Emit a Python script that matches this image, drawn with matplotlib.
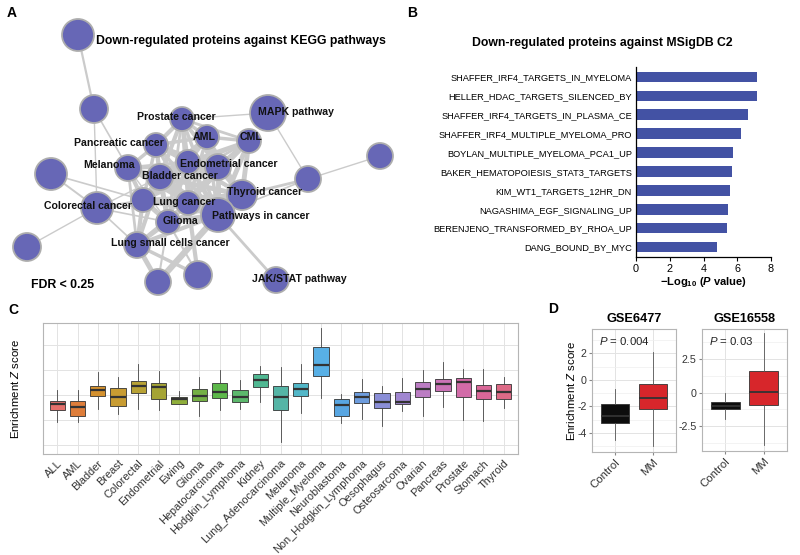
import numpy as np
import matplotlib
matplotlib.use("Agg")
import matplotlib.pyplot as plt
from matplotlib.patches import Circle
from matplotlib.collections import LineCollection

plt.rcParams.update({
    "font.family": ["Liberation Sans", "DejaVu Sans"],
    "mathtext.fontset": "custom",
    "mathtext.rm": "Liberation Sans",
    "mathtext.it": "Liberation Sans:italic",
    "mathtext.bf": "Liberation Sans:bold",
    "mathtext.bfit": "Liberation Sans:italic:bold",
    "axes.unicode_minus": False,
})

# ---------------------------------------------------------------------------
# data
# ---------------------------------------------------------------------------
# A: KEGG network (layout in panel pixels)
node_x = [78, 94, 182, 268, 207, 249, 156, 128, 51, 188, 218, 160, 308, 380,
          242, 97, 143, 188, 218, 168, 137, 27, 158, 198, 276]
node_y = [35, 109, 119, 113, 137, 141, 145, 168, 174, 162, 167, 177, 179, 156,
          195, 208, 200, 203, 215, 222, 245, 247, 282, 275, 280]
node_r = [16, 14, 12, 18, 12, 12, 12, 13, 16, 12, 13, 13, 13, 13,
          15, 16, 12, 12, 17, 12, 13, 14, 13, 14, 13]
edges = [
    (0, 1, 1.6), (1, 7, 1.2), (2, 3, 1.0), (3, 12, 1.0), (13, 12, 1.0),
    (12, 14, 2.0), (12, 18, 1.2), (8, 16, 1.2), (8, 15, 1.4), (21, 15, 1.0),
    (15, 16, 1.5), (15, 19, 1.2), (15, 20, 1.2), (15, 11, 1.0), (15, 17, 1.0),
    (18, 24, 2.0), (20, 22, 3.5), (20, 23, 2.5), (18, 22, 4.5), (17, 23, 3.0),
    (19, 22, 1.5), (19, 23, 1.5), (7, 19, 1.0), (1, 15, 1.0),
    (2, 4, 2.5), (2, 5, 2.0), (2, 6, 3.0), (2, 9, 3.0), (2, 10, 2.5),
    (2, 11, 3.0), (2, 17, 2.5), (2, 18, 2.5), (4, 5, 2.5), (4, 6, 2.5),
    (4, 9, 3.5), (4, 10, 3.0), (4, 11, 3.0), (4, 14, 2.5), (4, 17, 2.5),
    (4, 18, 2.5), (5, 9, 3.0), (5, 10, 3.5), (5, 14, 3.5), (5, 17, 3.0),
    (5, 18, 3.5), (5, 11, 2.5), (5, 19, 2.5), (6, 7, 2.5), (6, 9, 3.0),
    (6, 11, 3.0), (6, 17, 2.5), (6, 18, 2.5), (6, 19, 2.5), (7, 11, 3.5),
    (7, 16, 3.0), (7, 17, 2.5), (7, 18, 2.5), (7, 9, 2.5), (9, 10, 3.5),
    (9, 11, 3.5), (9, 14, 3.0), (9, 17, 3.5), (9, 18, 3.5), (9, 19, 3.0),
    (10, 11, 3.5), (10, 14, 3.5), (10, 17, 3.5), (10, 18, 3.5), (10, 19, 3.0),
    (11, 14, 3.5), (11, 16, 3.5), (11, 17, 4.0), (11, 18, 3.5), (11, 19, 3.5),
    (11, 20, 3.0), (14, 17, 3.5), (14, 18, 4.0), (14, 19, 3.0), (14, 16, 3.0),
    (16, 17, 3.5), (16, 19, 3.5), (16, 18, 3.0), (16, 20, 3.0), (17, 18, 4.0),
    (17, 19, 3.5), (17, 20, 3.0), (18, 19, 4.0), (18, 20, 3.0), (19, 20, 3.0),
    (6, 16, 2.5), (2, 14, 2.5), (5, 16, 2.0), (7, 20, 2.0), (6, 10, 2.5),
    (7, 10, 2.0), (4, 16, 2.0), (10, 16, 2.5), (6, 14, 2.0), (2, 19, 2.0),
]
node_labels = ["Prostate cancer", "AML", "CML", "MAPK pathway", "Pancreatic cancer",
               "Melanoma", "Endometrial cancer", "Bladder cancer", "Thyroid cancer",
               "Colorectal cancer", "Lung cancer", "Pathways in cancer", "Glioma",
               "Lung small cells cancer", "JAK/STAT pathway"]
label_pos = [(137, 117), (193, 137), (240, 137), (258, 112), (74, 143),
             (83, 165), (180, 164), (142, 176), (227, 192),
             (44, 206), (153, 202), (212, 216), (163, 221),
             (111, 243), (252, 279)]

# B: MSigDB C2
msig_sets = ["SHAFFER_IRF4_TARGETS_IN_MYELOMA", "HELLER_HDAC_TARGETS_SILENCED_BY",
             "SHAFFER_IRF4_TARGETS_IN_PLASMA_CE", "SHAFFER_IRF4_MULTIPLE_MYELOMA_PRO",
             "BOYLAN_MULTIPLE_MYELOMA_PCA1_UP", "BAKER_HEMATOPOIESIS_STAT3_TARGETS",
             "KIM_WT1_TARGETS_12HR_DN", "NAGASHIMA_EGF_SIGNALING_UP",
             "BERENJENO_TRANSFORMED_BY_RHOA_UP", "DANG_BOUND_BY_MYC"]
msig_logp = [7.19, 7.19, 6.66, 6.20, 5.77, 5.71, 5.57, 5.43, 5.38, 4.78]

# C: enrichment Z score per cancer type
cancer_types = ["ALL", "AML", "Bladder", "Breast", "Colorectal", "Endometrial", "Ewing",
                "Glioma", "Hepatocarcinoma", "Hodgkin_Lymphoma", "Kidney",
                "Lung_Adenocarcinoma", "Melanoma", "Multiple_Myeloma", "Neuroblastoma",
                "Non_Hodgkin_Lymphoma", "Oesophagus", "Osteosarcoma", "Ovarian",
                "Pancreas", "Prostate", "Stomach", "Thyroid"]
c_whishi = [0.20, 0.20, 0.93, 0.71, 1.24, 0.97, 0.16, 0.71, 1.00, 0.60, 1.17, 1.11,
            1.23, 2.67, 0.03, 0.63, 0.37, 0.67, 1.00, 1.31, 1.03, 1.04, 0.71]
c_q3 = [-0.24, -0.23, 0.37, 0.27, 0.56, 0.47, -0.09, 0.23, 0.47, 0.20, 0.84, 0.37,
        0.49, 1.91, -0.17, 0.13, 0.07, 0.11, 0.51, 0.64, 0.67, 0.39, 0.45]
c_med = [-0.37, -0.49, 0.20, -0.09, 0.36, 0.31, -0.17, -0.04, 0.11, -0.09, 0.60, -0.07,
         0.23, 1.20, -0.40, -0.09, -0.28, -0.28, 0.25, 0.43, 0.52, 0.17, 0.11]
c_q1 = [-0.60, -0.83, -0.04, -0.44, 0.07, -0.15, -0.37, -0.23, -0.11, -0.29, 0.31, -0.60,
        -0.03, 0.77, -0.83, -0.33, -0.53, -0.37, -0.07, 0.17, -0.07, -0.17, -0.15]
c_whislo = [-1.07, -1.07, -0.56, -0.76, -0.57, -0.60, -0.37, -0.83, -0.60, -0.56, -0.27,
            -1.87, -0.71, -0.13, -1.11, -0.97, -1.23, -0.63, -0.83, -0.49, -1.00, -1.03, -0.53]

# D: validation datasets
d_groups = ["Control", "MM"]
gse6477 = {"whishi": [-0.71, 2.10], "q3": [-1.82, -0.33], "med": [-2.71, -1.39],
           "q1": [-3.24, -2.23], "whislo": [-4.56, -4.99]}
gse16558 = {"whishi": [-0.05, 4.45], "q3": [-0.72, 1.58], "med": [-1.00, 0.02],
            "q1": [-1.22, -0.95], "whislo": [-1.93, -3.93]}
d_pvals = ["0.004", "0.03"]

# box fill colours for panel C (muted hue wheel)
c_palette = ["#e4706c", "#de7d3a", "#d4912e", "#c89c32", "#b8a235", "#a5a435",
             "#8fae3b", "#74b044", "#5db84a", "#5cb86c", "#50b892", "#55b5a6",
             "#52b7c8", "#58b0e6", "#58a6e2", "#6d9cdd", "#8a8ed7", "#a086d1",
             "#bb7cc3", "#ca73b6", "#d26ba8", "#da6798", "#dd6a86"]

W, H = 800, 555
fig = plt.figure(figsize=(W / 100, H / 100), dpi=100)


def px_axes(x0, y0, x1, y1):
    return fig.add_axes([x0 / W, 1 - y1 / H, (x1 - x0) / W, (y1 - y0) / H])


# panel letters
for letter, (lx, ly) in zip("ABCD", [(12, 13), (412, 13), (13, 310), (553, 309)]):
    fig.text(lx / W, 1 - ly / H, letter, fontsize=10, fontweight="bold", ha="center", va="center")

# ---------------------------------------------------------------------------
# A
# ---------------------------------------------------------------------------
ax = px_axes(0, 0, 400, 300)
ax.set_xlim(0, 400)
ax.set_ylim(300, 0)
ax.axis("off")
segs = [[(node_x[a], node_y[a]), (node_x[b], node_y[b])] for a, b, _ in edges]
ax.add_collection(LineCollection(segs, linewidths=[w for _, _, w in edges],
                                 colors="#cbcbcb", zorder=1))
for x, y, r in zip(node_x, node_y, node_r):
    ax.add_patch(Circle((x, y), r, facecolor="#6767b6", edgecolor="#adadad",
                        linewidth=1.3, zorder=2))
for name, (lx, ly) in zip(node_labels, label_pos):
    ax.text(lx, ly, name, fontsize=7.6, fontweight="bold", ha="left", va="center",
            color="#111111", zorder=3)
ax.text(96, 41, "Down-regulated proteins against KEGG pathways", fontsize=8.8,
        fontweight="bold", ha="left", va="center", zorder=3)
ax.text(31, 285, "FDR < 0.25", fontsize=8.8, fontweight="bold", ha="left", va="center")

# ---------------------------------------------------------------------------
# B
# ---------------------------------------------------------------------------
ax = px_axes(636, 67, 771, 257)
ypos = np.arange(len(msig_sets))
ax.barh(ypos, msig_logp, height=0.56, color="#4352a4")
ax.set_ylim(len(msig_sets) - 0.47, -0.53)
ax.set_xlim(0, 8)
ax.set_yticks(ypos)
ax.set_yticklabels(msig_sets, fontsize=6.7)
ax.tick_params(axis="y", length=0, pad=3)
ax.set_xticks([0, 2, 4, 6, 8])
ax.tick_params(axis="x", labelsize=7.8, length=3, width=0.8, pad=2)
for s in ["top", "right"]:
    ax.spines[s].set_visible(False)
for s in ["left", "bottom"]:
    ax.spines[s].set_linewidth(0.9)
ax.set_xlabel(r"−Log$_{\mathbf{10}}$ ($\mathbfit{P}$ value)", fontsize=8,
              fontweight="bold", labelpad=1)
fig.text(602 / W, 1 - 43 / H, "Down-regulated proteins against MSigDB C2",
         fontsize=8.8, fontweight="bold", ha="center", va="center")

# ---------------------------------------------------------------------------
# C
# ---------------------------------------------------------------------------
ax = px_axes(43, 323, 518, 454)
stats = [dict(med=m, q1=a, q3=b, whislo=lo, whishi=hi, fliers=[])
         for m, a, b, lo, hi in zip(c_med, c_q1, c_q3, c_whislo, c_whishi)]
xs = np.arange(len(cancer_types))
bp = ax.bxp(stats, positions=xs, widths=0.75, patch_artist=True, showcaps=False,
            boxprops=dict(edgecolor="#333333", linewidth=0.6),
            medianprops=dict(color="#333333", linewidth=1.6),
            whiskerprops=dict(color="#444444", linewidth=0.6), manage_ticks=False,
            zorder=3)
for patch, col in zip(bp["boxes"], c_palette):
    patch.set_facecolor(col)
ax.set_xlim(-0.7, len(cancer_types) - 0.3)
ax.set_ylim(-2.36, 2.89)
ax.set_xticks(xs)
ax.set_xticklabels(cancer_types, rotation=45, ha="right", va="top",
                   rotation_mode="anchor", fontsize=7.9, color="#333333")
ax.set_yticks([-2, -1, 0, 1, 2])
ax.set_yticklabels([])
ax.tick_params(axis="both", length=0, pad=3)
ax.grid(True, color="#e3e3e3", linewidth=0.7, zorder=0)
ax.set_axisbelow(True)
for s in ax.spines.values():
    s.set_color("#b5b5b5")
    s.set_linewidth(0.8)
ax.set_ylabel(r"Enrichment $\mathit{Z}$ score", fontsize=8.2)
ax.yaxis.set_label_coords(-22 / 475, 0.5)

# ---------------------------------------------------------------------------
# D
# ---------------------------------------------------------------------------
d_specs = [
    ("GSE6477", gse6477, (592, 329, 676, 452), (-5.44, 3.85), [-4, -2, 0, 2],
     ["-4", "-2", "0", "2"], [-5, -3, -1, 1, 3]),
    ("GSE16558", gse16558, (702, 329, 787, 451), (-4.35, 4.75), [-2.5, 0, 2.5],
     ["-2.5", "0", "2.5"], [-3.75, -1.25, 1.25, 3.75]),
]
for i, (title, st, box, ylim, yt, ytl, minor) in enumerate(d_specs):
    ax = px_axes(*box)
    stats = [dict(med=st["med"][k], q1=st["q1"][k], q3=st["q3"][k],
                  whislo=st["whislo"][k], whishi=st["whishi"][k], fliers=[])
             for k in range(len(d_groups))]
    bp = ax.bxp(stats, positions=[1, 2], widths=0.75, patch_artist=True, showcaps=False,
                boxprops=dict(edgecolor="#333333", linewidth=0.6),
                medianprops=dict(color="#333333", linewidth=1.3),
                whiskerprops=dict(color="#555555", linewidth=0.6), manage_ticks=False,
                zorder=3)
    for patch, col in zip(bp["boxes"], ["#0d0d0d", "#d7262b"]):
        patch.set_facecolor(col)
    ax.set_xlim(0.4, 2.6)
    ax.set_ylim(*ylim)
    ax.set_xticks([1, 2])
    ax.set_xticklabels(d_groups, rotation=45, ha="right", va="top",
                       rotation_mode="anchor", fontsize=8.2, color="#333333")
    ax.set_yticks(yt)
    ax.set_yticklabels(ytl, fontsize=7.7, color="#333333")
    ax.set_yticks(minor, minor=True)
    ax.tick_params(axis="both", which="major", length=2, color="#888888", pad=2)
    ax.tick_params(axis="y", which="minor", length=0)
    ax.grid(True, which="major", color="#e3e3e3", linewidth=0.7)
    ax.grid(True, which="minor", axis="y", color="#efefef", linewidth=0.5)
    ax.set_axisbelow(True)
    for s in ax.spines.values():
        s.set_color("#b5b5b5")
        s.set_linewidth(0.8)
    ax.set_title(title, fontsize=9.2, fontweight="bold", pad=5)
    ax.text(0.08, 0.9, r"$\mathit{P}$ = " + d_pvals[i], transform=ax.transAxes,
            fontsize=8.2, ha="left", va="center", color="#222222")
    if i == 0:
        ax.set_ylabel(r"Enrichment $\mathit{Z}$ score", fontsize=8.2, labelpad=0)

fig.savefig("out.png", dpi=100)
